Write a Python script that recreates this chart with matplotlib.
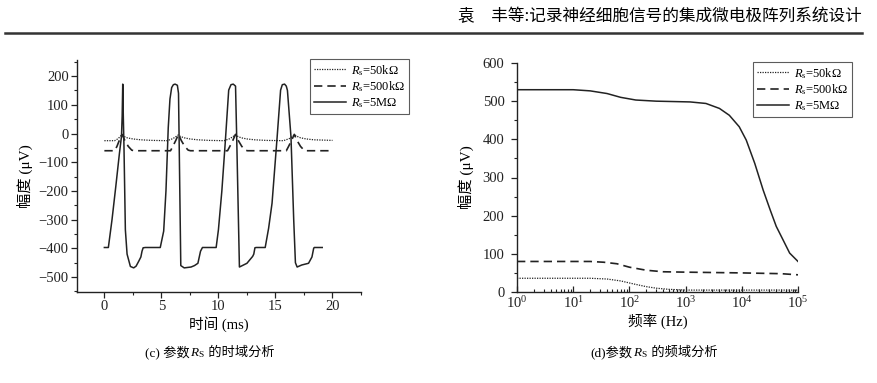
import numpy as np
import matplotlib
matplotlib.use('Agg')
import matplotlib.pyplot as plt
from matplotlib.ticker import MultipleLocator, LogLocator, NullFormatter

plt.rcParams['font.family'] = ['Liberation Serif', 'Noto Sans CJK SC']
plt.rcParams['mathtext.fontset'] = 'custom'
plt.rcParams['mathtext.rm'] = 'Liberation Serif'
plt.rcParams['mathtext.it'] = 'Liberation Serif:italic'
plt.rcParams['axes.unicode_minus'] = True

# (c) 时域 - 时间 ms, 幅度 uV
t_5M = [0, 0.35, 0.67, 1.0, 1.32, 1.5, 1.56, 1.61, 1.66, 1.72, 1.84, 1.99, 2.28, 2.57, 2.78,
        3.01, 3.2, 3.3, 3.4, 3.6,
        4.9, 5.2, 5.4, 5.6, 5.75, 5.9, 6.05, 6.2, 6.4, 6.5, 6.58, 6.7, 7.0, 7.6, 7.9, 8.2, 8.43, 8.6,
        9.8, 10.0, 10.3, 10.6, 10.9, 11.1, 11.3, 11.5, 11.6, 11.84, 12.5, 13.0, 13.1, 13.2, 13.3,
        14.1, 14.4, 14.7, 15.15, 15.45, 15.6, 15.8, 15.95, 16.05, 16.36, 16.6, 16.75, 16.9,
        17.3, 17.9, 18.2, 18.35, 18.4, 19.1]
v_5M = [-397, -397, -300, -185, -69, -10, 60, 172, 60, -49, -335, -420, -463, -468, -462,
        -445, -430, -410, -398, -397,
        -397, -340, -200, 20, 120, 160, 170, 172, 168, 140, -100, -460, -468, -465, -460, -452, -410, -397,
        -397, -335, -200, -30, 151, 170, 172, 165, -11, -465, -452, -428, -420, -398, -397,
        -397, -330, -243, -11, 151, 170, 172, 165, 150, -11, -300, -450, -465,
        -458, -452, -430, -400, -397, -397]

t_500k = [0, 0.9, 1.1, 1.3, 1.55, 1.8, 2.1, 2.4, 2.6,
          5.8, 6.0, 6.25, 6.5, 6.75, 7.05, 7.35, 7.55,
          10.8, 11.0, 11.25, 11.5, 11.75, 12.05, 12.35, 12.55,
          15.95, 16.15, 16.4, 16.65, 16.9, 17.2, 17.5, 17.7, 20]
v_500k = [-60, -60, -45, -25, -3, -25, -45, -58, -60,
          -60, -45, -25, -3, -25, -45, -58, -60,
          -60, -45, -25, -3, -25, -45, -58, -60,
          -60, -45, -25, -3, -25, -45, -58, -60, -60]

t_50k = [0, 0.9, 1.2, 1.4, 1.52, 1.7, 2.0, 2.5, 3.2, 4.2,
         5.5, 6.0, 6.3, 6.48, 6.65, 7.0, 7.5, 8.2, 9.2,
         10.5, 11.0, 11.3, 11.5, 11.7, 12.0, 12.5, 13.2, 14.2,
         15.7, 16.2, 16.5, 16.7, 16.9, 17.2, 17.7, 18.4, 20]
v_50k = [-25, -25, -18, -10, -5, -10, -15, -19, -22, -24,
         -25, -18, -10, -5, -10, -15, -19, -22, -24,
         -25, -18, -10, -5, -10, -15, -19, -22, -24,
         -25, -18, -10, -5, -10, -15, -19, -22, -24]

# (d) 频域 - 频率 Hz, 幅度 uV
f_5M = [1, 10, 20, 40, 70, 130, 300, 1200, 2300, 4000, 6000, 9000, 12000, 17000,
        24000, 32000, 41000, 54000, 71000, 100000]
a_5M = [530, 530, 527, 520, 510, 503, 500, 498, 494, 481, 463, 433, 398, 337,
        267, 215, 172, 137, 102, 80]
f_500k = [1, 20, 35, 60, 100, 200, 400, 1000, 10000, 50000, 100000]
a_500k = [80, 80, 78, 74, 65, 57, 53, 52, 50, 48, 45]
f_50k = [1, 20, 40, 70, 120, 200, 300, 500, 1000, 100000]
a_50k = [36, 36, 34, 29, 21, 14, 10, 7, 5, 5]

labels = [r'$R_\mathrm{s}$=50kΩ', r'$R_\mathrm{s}$=500kΩ', r'$R_\mathrm{s}$=5MΩ']
cap_c = ['(c) 参数', r'$R_\mathrm{S}$', ' 的时域分析']
cap_d = ['(d)参数', r'$R_\mathrm{S}$', ' 的频域分析']
col = '#222222'

fig = plt.figure(figsize=(8.78, 3.83), dpi=100)

# header
fig.text(862/878, 1 - 17/383, '袁　丰等:记录神经细胞信号的集成微电极阵列系统设计',
         ha='right', va='center', fontsize=12, family=['Noto Sans CJK SC', 'DejaVu Sans'])
fig.add_artist(plt.Line2D([5/878, 862/878], [1 - 33/383, 1 - 33/383], color='#333333', lw=1.8))

ax1 = fig.add_axes([77/878, 1 - 292/383, (361 - 77)/878, (292 - 60)/383])
ax2 = fig.add_axes([517/878, 1 - 292/383, (798 - 517)/878, (292 - 63)/383])

ax1.plot(t_50k, v_50k, color=col, lw=0.9, ls=(0, (1, 1)), label=labels[0])
ax1.plot(t_500k, v_500k, color=col, lw=1.2, ls=(0, (5, 3)), label=labels[1])
ax1.plot(t_5M, v_5M, color=col, lw=1.1, label=labels[2])
ax1.set_xlim(-2.4, 22.5)
ax1.set_ylim(-552, 256)
ax1.xaxis.set_major_locator(MultipleLocator(5))
ax1.xaxis.set_minor_locator(MultipleLocator(2.5))
ax1.yaxis.set_major_locator(MultipleLocator(100))
ax1.yaxis.set_minor_locator(MultipleLocator(50))
ax1.set_xlabel('时间 (ms)', fontsize=10.5, labelpad=2)
ax1.set_ylabel('幅度 (μV)', fontsize=11, labelpad=4)

ax2.plot(f_50k, a_50k, color=col, lw=0.9, ls=(0, (1, 1)), label=labels[0])
ax2.plot(f_500k, a_500k, color=col, lw=1.2, ls=(0, (5, 3)), label=labels[1])
ax2.plot(f_5M, a_5M, color=col, lw=1.1, label=labels[2])
ax2.set_xscale('log')
ax2.set_xlim(1, 1e5)
ax2.set_ylim(0, 600)
ax2.xaxis.set_major_locator(LogLocator(base=10, numticks=10))
ax2.xaxis.set_minor_locator(LogLocator(base=10, subs=np.arange(2, 10), numticks=20))
ax2.xaxis.set_minor_formatter(NullFormatter())
ax2.yaxis.set_major_locator(MultipleLocator(100))
ax2.yaxis.set_minor_locator(MultipleLocator(50))
ax2.set_xlabel('频率 (Hz)', fontsize=10.5, labelpad=2)
ax2.set_ylabel('幅度 (μV)', fontsize=11, labelpad=6)

for ax in (ax1, ax2):
    ax.spines['top'].set_visible(False)
    ax.spines['right'].set_visible(False)
    for s in ('left', 'bottom'):
        ax.spines[s].set_linewidth(1.0)
        ax.spines[s].set_color(col)
    ax.tick_params(which='major', length=4, width=0.9, labelsize=10.5, pad=2, colors=col)
    ax.tick_params(which='minor', length=2.5, width=0.8, colors=col)
ax2.tick_params(axis='x', which='both', direction='in')
ax2.tick_params(axis='y', pad=5)

leg_kw = dict(loc='upper left', bbox_transform=fig.transFigure, fontsize=9, frameon=True,
              fancybox=False, edgecolor='#333333', handlelength=2.6, handletextpad=0.4,
              borderpad=0.3, labelspacing=0.15, borderaxespad=0)
l1 = ax1.legend(bbox_to_anchor=(310/878, 1 - 59/383), **leg_kw)
l2 = ax2.legend(bbox_to_anchor=(753/878, 1 - 62/383), **leg_kw)
for l in (l1, l2):
    l.get_frame().set_linewidth(0.8)


# captions: pieces placed side by side so the CJK part keeps its font
def caption(parts, xc, y):
    r = fig.canvas.get_renderer()
    txts = [fig.text(0, y, p, ha='left', va='baseline', fontsize=9.5) for p in parts]
    ws = [t.get_window_extent(r).width for t in txts]
    x = xc - sum(ws) / 2
    for t, w in zip(txts, ws):
        t.set_position((x / fig.bbox.width, y))
        x += w


fig.canvas.draw()
caption(cap_c, 210, 1 - 356/383)
caption(cap_d, 654, 1 - 356/383)

fig.savefig('out.png', dpi=100)
